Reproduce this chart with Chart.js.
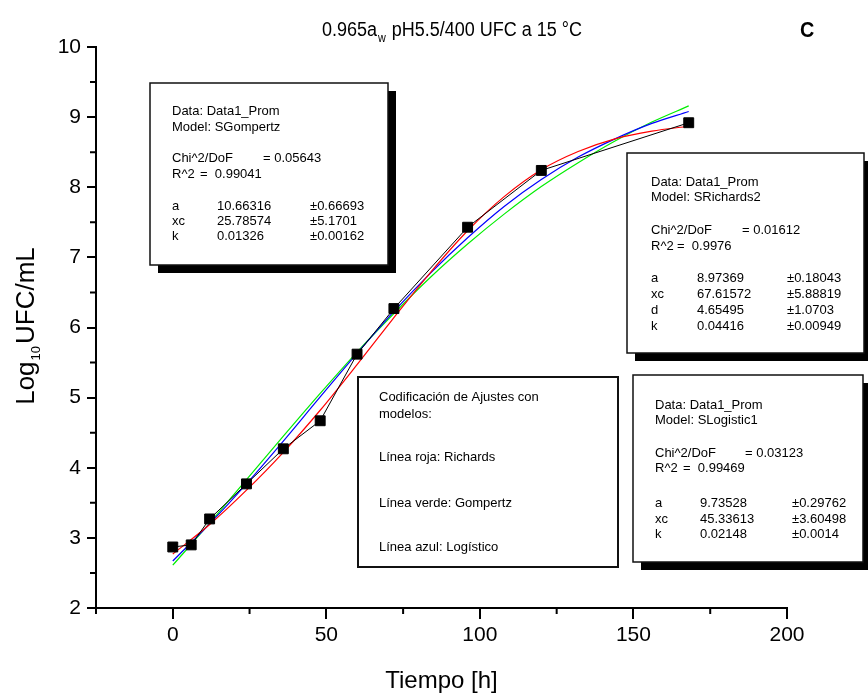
<!DOCTYPE html>
<html>
<head>
<meta charset="utf-8">
<script src="https://cdn.jsdelivr.net/npm/chart.js@4.4.0/dist/chart.umd.min.js"></script>
<style>
  body { margin: 0; background: #fff; }
  canvas { display: block; }
</style>
</head>
<body>
<canvas id="chart" width="868" height="696"></canvas>
<script>
// datos experimentales (promedio)
const timeH = [0, 6, 12, 24, 36, 48, 60, 72, 96, 120, 168];
const logUfc = [2.87, 2.90, 3.27, 3.77, 4.27, 4.67, 5.62, 6.27, 7.43, 8.24, 8.92];

// curvas ajustadas
const fitTime = [0, 12, 24, 36, 48, 60, 72, 84, 96, 108, 120, 132, 144, 156, 168];
const richardsFit = [2.77, 3.19, 3.68, 4.22, 4.82, 5.47, 6.14, 6.79, 7.38, 7.87, 8.25, 8.51, 8.69, 8.80, 8.87];
const gompertzFit = [2.61, 3.21, 3.83, 4.45, 5.06, 5.65, 6.20, 6.72, 7.19, 7.62, 8.01, 8.35, 8.66, 8.93, 9.16];
const logisticFit = [2.67, 3.20, 3.77, 4.38, 5.01, 5.63, 6.23, 6.78, 7.28, 7.73, 8.11, 8.43, 8.69, 8.91, 9.08];

const xTicks = [0, 50, 100, 150, 200];
const xMinorTicks = [-25, 25, 75, 125, 175];
const yTicks = [2, 3, 4, 5, 6, 7, 8, 9, 10];
const yMinorTicks = [2.5, 3.5, 4.5, 5.5, 6.5, 7.5, 8.5, 9.5];

const SANS = '"Liberation Sans", Arial, sans-serif';

function toPoints(xs, ys) {
    return xs.map((x, i) => ({ x: x, y: ys[i] }));
}

// cuadros de texto (posiciones en pixeles del lienzo)
const gompertzBox = {
    rect: [150, 83, 238, 182], shadow: true,
    lines: [
        [172, 111, 'Data: Data1_Prom'], [172, 127, 'Model: SGompertz'],
        [172, 158, 'Chi^2/DoF'], [263, 158, '= 0.05643'],
        [172, 174, 'R^2'], [200, 174, '=  0.99041'],
        [172, 206, 'a'], [217, 206, '10.66316'], [310, 206, '\u00b10.66693'],
        [172, 221, 'xc'], [217, 221, '25.78574'], [310, 221, '\u00b15.1701'],
        [172, 236, 'k'], [217, 236, '0.01326'], [310, 236, '\u00b10.00162']
    ]
};
const richardsBox = {
    rect: [627, 153, 237, 200], shadow: true,
    lines: [
        [651, 182, 'Data: Data1_Prom'], [651, 197, 'Model: SRichards2'],
        [651, 230, 'Chi^2/DoF'], [742, 230, '= 0.01612'],
        [651, 246, 'R^2'], [677, 246, '=  0.9976'],
        [651, 278, 'a'], [697, 278, '8.97369'], [787, 278, '\u00b10.18043'],
        [651, 294, 'xc'], [697, 294, '67.61572'], [787, 294, '\u00b15.88819'],
        [651, 310, 'd'], [697, 310, '4.65495'], [787, 310, '\u00b11.0703'],
        [651, 326, 'k'], [697, 326, '0.04416'], [787, 326, '\u00b10.00949']
    ]
};
const logisticBox = {
    rect: [633, 375, 230, 187], shadow: true,
    lines: [
        [655, 405, 'Data: Data1_Prom'], [655, 420, 'Model: SLogistic1'],
        [655, 453, 'Chi^2/DoF'], [745, 453, '= 0.03123'],
        [655, 468, 'R^2'], [683, 468, '=  0.99469'],
        [655, 503, 'a'], [700, 503, '9.73528'], [792, 503, '\u00b10.29762'],
        [655, 519, 'xc'], [700, 519, '45.33613'], [792, 519, '\u00b13.60498'],
        [655, 534, 'k'], [700, 534, '0.02148'], [792, 534, '\u00b10.0014']
    ]
};
const codeBox = {
    rect: [358, 377, 260, 190], shadow: false,
    lines: [
        [379, 397, 'Codificaci\u00f3n de Ajustes con'], [379, 414, 'modelos:'],
        [379, 457, 'L\u00ednea roja: Richards'],
        [379, 503, 'L\u00ednea verde: Gompertz'],
        [379, 547, 'L\u00ednea azul: Log\u00edstico']
    ]
};

function drawBox(ctx, box) {
    const [x, y, w, h] = box.rect;
    if (box.shadow) {
        ctx.fillStyle = '#000';
        ctx.fillRect(x + 8, y + 8, w, h);
    }
    ctx.fillStyle = '#fff';
    ctx.fillRect(x, y, w, h);
    ctx.strokeStyle = '#111';
    ctx.lineWidth = box.shadow ? 1.5 : 2;
    ctx.strokeRect(x, y, w, h);
    ctx.fillStyle = '#000';
    ctx.font = '13px ' + SANS;
    ctx.textAlign = 'left';
    ctx.textBaseline = 'middle';
    box.lines.forEach(([tx, ty, s]) => ctx.fillText(s, tx, ty));
}

const decorPlugin = {
    id: 'decor',
    afterDraw(chart) {
        const ctx = chart.ctx;
        const xs = chart.scales.x, ys = chart.scales.y;
        ctx.save();

        // marcas menores
        ctx.strokeStyle = '#000';
        ctx.lineWidth = 2;
        ctx.beginPath();
        xMinorTicks.forEach(v => {
            const px = xs.getPixelForValue(v);
            ctx.moveTo(px, ys.bottom);
            ctx.lineTo(px, ys.bottom + 6);
        });
        yMinorTicks.forEach(v => {
            const py = ys.getPixelForValue(v);
            ctx.moveTo(xs.left, py);
            ctx.lineTo(xs.left - 6, py);
        });
        ctx.stroke();

        [gompertzBox, richardsBox, logisticBox, codeBox].forEach(b => drawBox(ctx, b));

        // titulo (ligeramente comprimido)
        ctx.fillStyle = '#000';
        ctx.textAlign = 'left';
        ctx.textBaseline = 'alphabetic';
        ctx.save();
        ctx.translate(322, 36);
        ctx.scale(0.9, 1);
        let tx = 0;
        ctx.font = '20px ' + SANS;
        ctx.fillText('0.965a', tx, 0);
        tx += ctx.measureText('0.965a').width;
        ctx.font = '12px ' + SANS;
        ctx.fillText('w', tx + 1, 6);
        tx += ctx.measureText('w').width + 2;
        ctx.font = '20px ' + SANS;
        ctx.fillText(' pH5.5/400 UFC a 15 \u00b0C', tx, 0);
        ctx.restore();

        ctx.save();
        ctx.translate(800, 37);
        ctx.scale(0.9, 1);
        ctx.font = 'bold 22px ' + SANS;
        ctx.fillText('C', 0, 0);
        ctx.restore();

        // titulo eje x
        ctx.font = '24px ' + SANS;
        ctx.textAlign = 'center';
        ctx.fillText('Tiempo [h]', xs.getPixelForValue(87.5), 688);

        // titulo eje y (con subindice)
        ctx.translate(34, 326);
        ctx.rotate(-Math.PI / 2);
        ctx.textAlign = 'left';
        ctx.font = '26px ' + SANS;
        const wLog = ctx.measureText('Log').width;
        const wRest = ctx.measureText('UFC/mL').width;
        ctx.font = '13px ' + SANS;
        const wSub = ctx.measureText('10').width + 3;
        let sx = -(wLog + wSub + wRest) / 2;
        ctx.font = '26px ' + SANS;
        ctx.fillText('Log', sx, 0);
        sx += wLog;
        ctx.font = '13px ' + SANS;
        ctx.fillText('10', sx + 1, 6);
        sx += wSub;
        ctx.font = '26px ' + SANS;
        ctx.fillText('UFC/mL', sx, 0);

        ctx.restore();
    }
};

new Chart(document.getElementById('chart'), {
    type: 'scatter',
    data: {
        datasets: [
            {
                label: 'Data1_Prom',
                data: toPoints(timeH, logUfc),
                showLine: true,
                borderColor: '#000',
                backgroundColor: '#000',
                borderWidth: 1,
                pointStyle: 'rect',
                pointRadius: 7,
                pointHoverRadius: 7
            },
            {
                label: 'Richards',
                data: toPoints(fitTime, richardsFit),
                showLine: true,
                borderColor: '#ff0000',
                borderWidth: 1.2,
                pointRadius: 0,
                cubicInterpolationMode: 'monotone'
            },
            {
                label: 'Logistico',
                data: toPoints(fitTime, logisticFit),
                showLine: true,
                borderColor: '#0000ff',
                borderWidth: 1.2,
                pointRadius: 0,
                cubicInterpolationMode: 'monotone'
            },
            {
                label: 'Gompertz',
                data: toPoints(fitTime, gompertzFit),
                showLine: true,
                borderColor: '#00ee00',
                borderWidth: 1.2,
                pointRadius: 0,
                cubicInterpolationMode: 'monotone'
            }
        ]
    },
    options: {
        responsive: false,
        animation: false,
        devicePixelRatio: 1,
        layout: { padding: { top: 47, right: 81, left: 0, bottom: 0 } },
        plugins: {
            legend: { display: false },
            tooltip: { enabled: false }
        },
        scales: {
            x: {
                type: 'linear',
                min: -25,
                max: 200,
                afterFit: (scale) => { scale.height = 88; },
                afterBuildTicks: (scale) => { scale.ticks = xTicks.map(v => ({ value: v })); },
                grid: { drawOnChartArea: false, color: '#000', lineWidth: 2, tickLength: 11 },
                border: { color: '#000', width: 2 },
                ticks: { color: '#000', padding: 4, maxRotation: 0, font: { family: SANS, size: 21 } }
            },
            y: {
                type: 'linear',
                min: 2,
                max: 10,
                afterFit: (scale) => { scale.width = 96; },
                afterBuildTicks: (scale) => { scale.ticks = yTicks.map(v => ({ value: v })); },
                grid: { drawOnChartArea: false, color: '#000', lineWidth: 2, tickLength: 9 },
                border: { color: '#000', width: 2 },
                ticks: { color: '#000', padding: 6, font: { family: SANS, size: 21 } }
            }
        }
    },
    plugins: [decorPlugin]
});
</script>
</body>
</html>
